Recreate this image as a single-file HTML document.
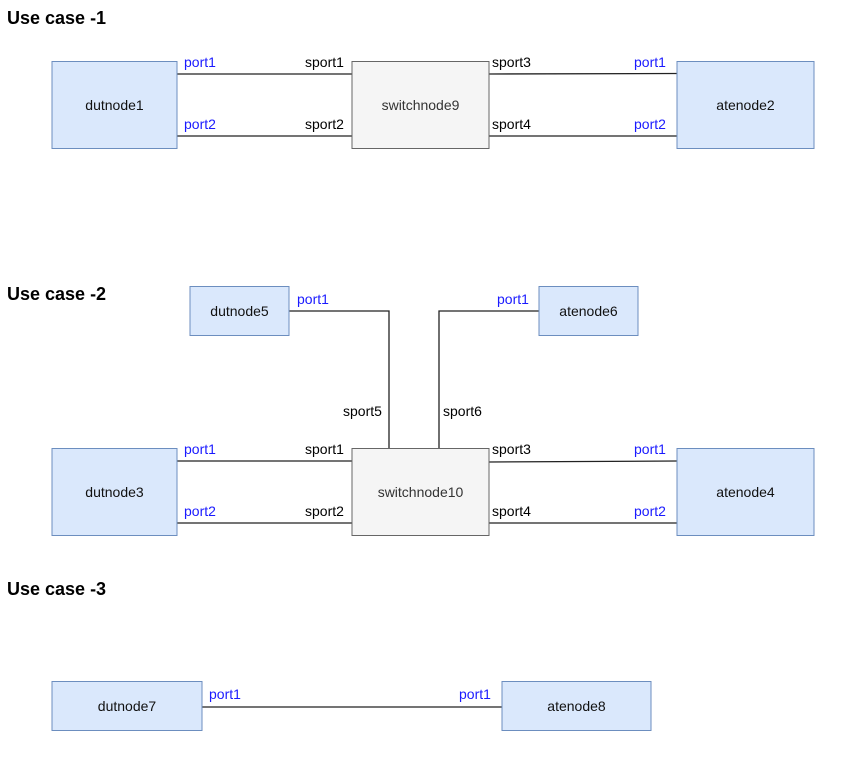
<!DOCTYPE html>
<html><head><style>body{margin:0;background:#fff}</style></head><body>
<svg width="852" height="761" xmlns="http://www.w3.org/2000/svg" font-family="Liberation Sans, Arial, sans-serif">
<g font-size="18" font-weight="bold" fill="#000">
<text x="7" y="24">Use case -1</text>
<text x="7" y="300">Use case -2</text>
<text x="7" y="595">Use case -3</text>
</g>
<g stroke="#222" stroke-width="1.3" fill="none">
<line x1="177" y1="74" x2="352" y2="74"/><line x1="177" y1="136" x2="352" y2="136"/>
<line x1="489" y1="74" x2="677" y2="73.5"/><line x1="489" y1="136" x2="677" y2="136"/>
<polyline points="289,311 389,311 389,449"/><polyline points="539,311 439,311 439,449"/>
<line x1="177" y1="461" x2="352" y2="461"/><line x1="177" y1="523" x2="352" y2="523"/>
<line x1="489" y1="462" x2="677" y2="461"/><line x1="489" y1="523" x2="677" y2="523"/>
<line x1="202" y1="707" x2="502" y2="707"/>
</g>
<g stroke="#6c8ebf" fill="#dae8fc" stroke-width="1">
<rect x="52" y="61.5" width="125" height="87"/>
<rect x="677" y="61.5" width="137" height="87"/>
<rect x="190" y="286.5" width="99" height="49"/>
<rect x="539" y="286.5" width="99" height="49"/>
<rect x="52" y="448.5" width="125" height="87"/>
<rect x="677" y="448.5" width="137" height="87"/>
<rect x="52" y="681.5" width="150" height="49"/>
<rect x="502" y="681.5" width="149" height="49"/>
</g>
<g stroke="#666" fill="#f5f5f5" stroke-width="1">
<rect x="352" y="61.5" width="137" height="87"/>
<rect x="352" y="448.5" width="137" height="87"/>
</g>
<g font-size="14" text-anchor="middle" fill="#111">
<text x="114.5" y="110">dutnode1</text>
<text x="420.5" y="110" fill="#333">switchnode9</text>
<text x="745.5" y="110">atenode2</text>
<text x="239.5" y="316">dutnode5</text>
<text x="588.5" y="316">atenode6</text>
<text x="114.5" y="497">dutnode3</text>
<text x="420.5" y="497" fill="#333">switchnode10</text>
<text x="745.5" y="497">atenode4</text>
<text x="127" y="711">dutnode7</text>
<text x="576.5" y="711">atenode8</text>
</g>
<g font-size="14" fill="#1a1aff">
<text x="184" y="67">port1</text><text x="184" y="129">port2</text>
<text x="634" y="67">port1</text><text x="634" y="129">port2</text>
<text x="297" y="304">port1</text><text x="497" y="304">port1</text>
<text x="184" y="454">port1</text><text x="184" y="516">port2</text>
<text x="634" y="454">port1</text><text x="634" y="516">port2</text>
<text x="209" y="699">port1</text><text x="459" y="699">port1</text>
</g>
<g font-size="14" fill="#000">
<text x="305" y="67">sport1</text><text x="305" y="129">sport2</text>
<text x="492" y="67">sport3</text><text x="492" y="129">sport4</text>
<text x="343" y="416">sport5</text><text x="443" y="416">sport6</text>
<text x="305" y="454">sport1</text><text x="305" y="516">sport2</text>
<text x="492" y="454">sport3</text><text x="492" y="516">sport4</text>
</g>
</svg>
</body></html>
